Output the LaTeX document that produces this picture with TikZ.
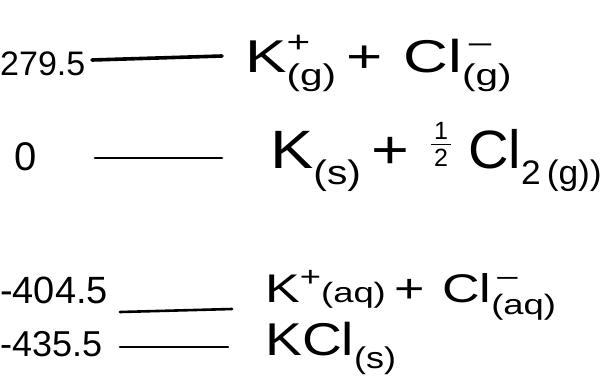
\documentclass[tikz,border=0pt]{standalone}
\usepackage{fontspec}
\setmainfont{Liberation Sans}
\newcommand\scs{\small}
\newcommand\spsb[2]{\rlap{\raisebox{0.42em}{\scs #1}}\raisebox{-0.3em}{\scs #2}}
\newcommand\sbonly[1]{\raisebox{-0.3em}{\scs #1}}
\newcommand\spmid[1]{\raisebox{0.4em}{\scs #1}}
\begin{document}
\begin{tikzpicture}[x=1pt,y=-1pt,
  val/.style={anchor=base west,inner sep=0pt,font=\fontsize{34}{38}\selectfont},
  spec/.style={anchor=base west,inner sep=0pt},
  digit/.style={inner sep=0pt,font=\fontsize{25}{25}\selectfont},
  lvl/.style={line width=2.6pt,line cap=round}]
\useasboundingbox (0,0) rectangle (602,381);
% row 1
\node[val] (v1) at (0,75) {279.5};
\coordinate (a1) at (92,60); \coordinate (b1) at (222,56);
\draw[lvl,line width=3.6pt] (a1) -- (b1);
\node[spec,font=\fontsize{46}{50}\selectfont\def\scs{\fontsize{30}{30}\selectfont}] (s1) at (245,72)
  {\scalebox{1.35}[1]{K\spsb{+}{(g)}\,+\,\,Cl\spsb{\,\textendash}{(g)}}};
% row 2
\node[val,font=\fontsize{40}{44}\selectfont] (v2) at (14,170) {0};
\coordinate (a2) at (95,158); \coordinate (b2) at (222,158);
\draw[lvl] (a2) -- (b2);
\node[spec,font=\fontsize{54}{58}\selectfont\def\scs{\fontsize{34}{34}\selectfont}] (s2a) at (270,168)
  {\scalebox{1.2}[1]{K\sbonly{(s)}\,+}};
\node[digit] (h1) at (441,131) {1};
\node[digit] (h2) at (441,158) {2};
\coordinate (f1) at (431,144.5); \coordinate (f2) at (451,144.5);
\draw[line width=1.8pt] (f1) -- (f2);
\node[spec,font=\fontsize{54}{58}\selectfont\def\scs{\fontsize{34}{34}\selectfont}] (s2b) at (468,168)
  {\scalebox{1.04}[1]{Cl\sbonly{2\,(g))}}};
% row 3
\node[val,font=\fontsize{38}{42}\selectfont] (v3) at (0,303) {-404.5};
\coordinate (a3) at (120,312); \coordinate (b3) at (232,309);
\draw[lvl] (a3) -- (b3);
\node[spec,font=\fontsize{40}{44}\selectfont\def\scs{\fontsize{28}{28}\selectfont}] (s3) at (265,302)
  {\scalebox{1.3}[1]{K\spmid{+}{\scs(aq)}\,+\,\,Cl\spsb{\,\textendash}{(aq)}}};
% row 4
\node[val,font=\fontsize{36}{40}\selectfont] (v4) at (0,356) {-435.5};
\coordinate (a4) at (120,347); \coordinate (b4) at (228,347);
\draw[lvl] (a4) -- (b4);
\node[spec,font=\fontsize{46}{50}\selectfont\def\scs{\fontsize{30}{30}\selectfont}] (s4) at (265,355)
  {\scalebox{1.2}[1]{KCl\sbonly{(s)}}};
\end{tikzpicture}
\end{document}
